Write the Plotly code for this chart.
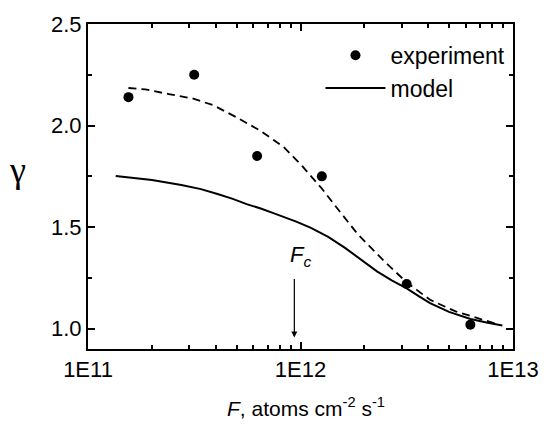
import plotly.graph_objects as go

# experiment points
exp_F = [1.55e11, 3.16e11, 6.25e11, 1.26e12, 3.16e12, 6.3e12]
exp_gamma = [2.14, 2.25, 1.85, 1.75, 1.22, 1.02]

# model curve (solid)
model_F = [1.35e11, 2.0e11, 2.75e11, 3.4e11, 4.07e11, 4.8e11, 5.62e11, 6.5e11, 7.4e11,
           8.4e11, 9.55e11, 1.12e12, 1.35e12, 1.62e12, 1.91e12, 2.29e12, 2.7e12,
           3.16e12, 3.6e12, 4.07e12, 5.0e12, 6.31e12, 7.5e12, 8.91e12]
model_gamma = [1.752, 1.732, 1.707, 1.687, 1.663, 1.639, 1.612, 1.592, 1.570,
               1.549, 1.527, 1.496, 1.452, 1.398, 1.342, 1.282, 1.237,
               1.198, 1.160, 1.126, 1.083, 1.048, 1.030, 1.016]

# fitted curve (dashed)
fit_F = [1.55e11, 1.86e11, 2.40e11, 3.09e11, 3.89e11, 5.01e11, 6.46e11, 8.32e11,
         1.02e12, 1.26e12, 1.41e12, 1.86e12, 2.45e12, 3.16e12, 4.07e12, 5.37e12,
         6.76e12, 8.71e12]
fit_gamma = [2.185, 2.178, 2.155, 2.134, 2.100, 2.040, 1.975, 1.895,
             1.800, 1.690, 1.624, 1.465, 1.337, 1.228, 1.142, 1.085,
             1.053, 1.018]

x_tickvals = [1e11, 1e12, 1e13]
x_ticktext = ["1E11", "1E12", "1E13"]
x_minorvals = [m * 10 ** e for e in (11, 12) for m in range(2, 10)]
y_tickvals = [1.0, 1.5, 2.0, 2.5]
y_ticktext = ["1.0", "1.5", "2.0", "2.5"]

Fc_log = 11.971  # position of F_c arrow (log10 units)

fig = go.Figure()
fig.add_trace(go.Scatter(x=fit_F, y=fit_gamma, mode="lines", showlegend=False,
                         line=dict(color="black", width=1.8, dash="8px,5px")))
fig.add_trace(go.Scatter(x=exp_F, y=exp_gamma, mode="markers", name="experiment",
                         marker=dict(color="black", size=10)))
fig.add_trace(go.Scatter(x=model_F, y=model_gamma, mode="lines", name="model",
                         line=dict(color="black", width=2)))

axis_common = dict(showline=True, linecolor="black", linewidth=2, mirror="ticks",
                   ticks="inside", ticklen=7, tickwidth=1.5, tickcolor="black",
                   showgrid=False, zeroline=False,
                   tickfont=dict(size=22, color="black"))

fig.update_xaxes(type="log", range=[11, 13], tickmode="array", tickvals=x_tickvals,
                 ticktext=x_ticktext,
                 minor=dict(tickmode="array", tickvals=x_minorvals, ticks="inside",
                            ticklen=4, tickwidth=1.5, tickcolor="black", showgrid=False),
                 **axis_common)
fig.update_yaxes(range=[0.9, 2.5], tickmode="array", tickvals=y_tickvals,
                 ticktext=y_ticktext,
                 minor=dict(dtick=0.25, tick0=1.0, ticks="inside", ticklen=4,
                            tickwidth=1.5, tickcolor="black", showgrid=False),
                 **axis_common)

# axis titles
fig.add_annotation(xref="paper", yref="paper", x=0.513, y=-0.178,
                   text="<i>F</i>, atoms cm<sup>-2</sup> s<sup>-1</sup>",
                   showarrow=False, xanchor="center", yanchor="middle",
                   font=dict(size=21, color="black"))
fig.add_annotation(xref="paper", yref="paper", x=-0.19, y=0.55, text="γ",
                   showarrow=False, font=dict(family="Liberation Serif", size=36, color="black"))
# F_c marker
fig.add_annotation(x=Fc_log, y=0.957, ax=0, ay=-60, text="", showarrow=True,
                   arrowhead=2, arrowsize=1, arrowwidth=1.2, arrowcolor="black", standoff=0)
fig.add_annotation(x=11.998, y=1.36, text="<i>F</i><sub><i>c</i></sub>", showarrow=False,
                   xanchor="center", yanchor="middle", font=dict(size=22, color="black"))

fig.update_layout(width=551, height=427, margin=dict(l=88, r=30, t=18, b=78),
                  paper_bgcolor="white", plot_bgcolor="white",
                  font=dict(family="Liberation Sans, Arial", color="black"),
                  legend=dict(x=0.547, y=0.97, xanchor="left", yanchor="top",
                              bgcolor="rgba(0,0,0,0)", font=dict(size=23),
                              itemwidth=60, traceorder="normal"))

fig.write_html("out.html", config={"displayModeBar": False},
               post_script="document.body.style.margin='0';document.body.style.overflow='hidden';")
